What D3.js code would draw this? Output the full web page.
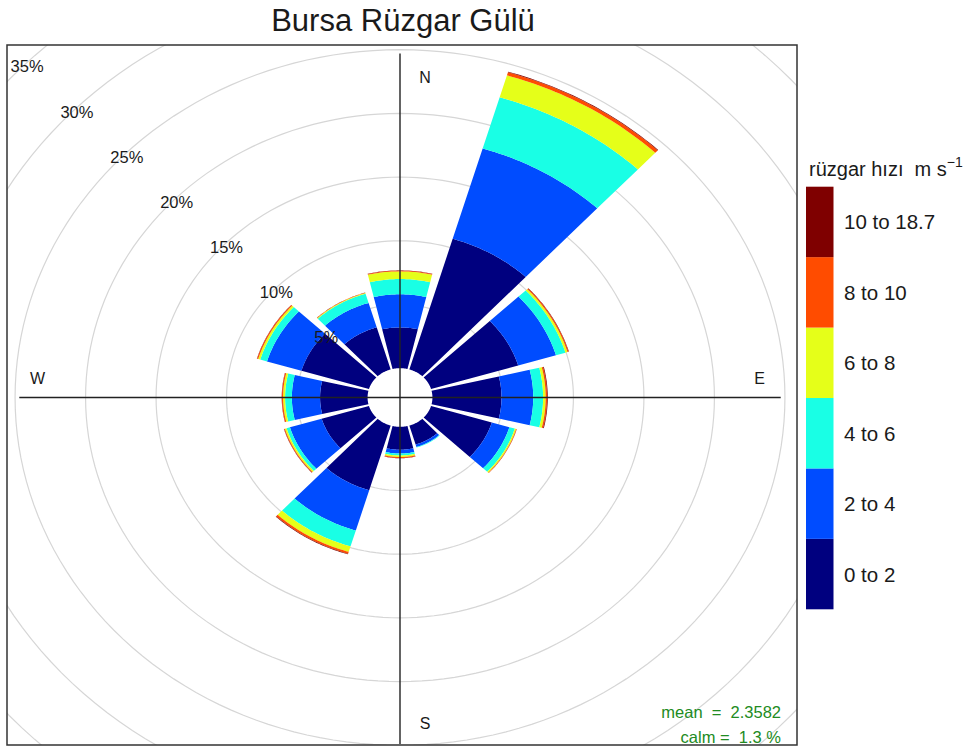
<!DOCTYPE html>
<html>
<head>
<meta charset="utf-8">
<script src="https://cdn.jsdelivr.net/npm/d3@7"></script>
<style>
  body { margin: 0; background: #fff; }
  text { font-family: "Liberation Sans", Arial, sans-serif; fill: #1a1a1a; }
</style>
</head>
<body>
<svg id="chart" width="972" height="752"></svg>
<script>
// Wind directions (degrees, clockwise from north) and speed bins.
const directions = [0, 30, 60, 90, 120, 150, 180, 210, 240, 270, 300, 330];
const speedBins = ["0 to 2", "2 to 4", "4 to 6", "6 to 8", "8 to 10", "10 to 18.7"];
const binColours = ["#00007F", "#004CFF", "#19FFE5", "#E5FF19", "#FF4C00", "#7F0000"];

// Frequency (%) of each speed bin per direction.
const freq0to2   = [3.2, 10.7, 6.45, 4.9, 4.5, 1.55, 1.8, 5.3, 3.5, 3.37, 5.0, 3.45];
const freq2to4   = [2.6, 7.4, 2.8, 2.25, 1.3, 0.2, 0.3, 3.3, 2.35, 2.0, 2.55, 2.0];
const freq4to6   = [1.2, 4.2, 0.7, 0.7, 0.4, 0.05, 0.15, 1.3, 0.25, 0.48, 0.5, 0.75];
const freq6to8   = [0.6, 1.8, 0.15, 0.18, 0.1, 0.0, 0.12, 0.45, 0.12, 0.14, 0.15, 0.06];
const freq8to10  = [0.06, 0.25, 0.08, 0.1, 0.04, 0.0, 0.08, 0.15, 0.06, 0.08, 0.08, 0.03];
const freq10plus = [0.02, 0.05, 0.03, 0.05, 0.01, 0.0, 0.02, 0.05, 0.02, 0.02, 0.02, 0.01];

const gridPercents = [5, 10, 15, 20, 25, 30, 35];
const compassLabels = ["N", "E", "S", "W"];
const meanText = "mean  =  2.3582";
const calmText = "calm =  1.3 %";

const series = [freq0to2, freq2to4, freq4to6, freq6to8, freq8to10, freq10plus];

const svg = d3.select("#chart");

// Panel geometry.
const panel = {left: 7, top: 45, right: 797, bottom: 745};
const cx = 400, cy = 397.5;
const offset = 2.3;        // empty centre (in % units)
const halfWidth = 13.3;    // half angular width of a petal

// The plot is not aspect-equal: x and y have their own scale.
const x = d3.scaleLinear().domain([0, 10]).range([cx, cx + 141]);
const y = d3.scaleLinear().domain([0, 10]).range([cy, cy - 127.4]);

function polar(r, deg) {
    let a = deg * Math.PI / 180;
    return [x(r * Math.sin(a)), y(r * Math.cos(a))];
}

svg.append("defs").append("clipPath").attr("id", "panel-clip")
    .append("rect")
    .attr("x", panel.left).attr("y", panel.top)
    .attr("width", panel.right - panel.left)
    .attr("height", panel.bottom - panel.top);

const plot = svg.append("g").attr("clip-path", "url(#panel-clip)");

// Grid ellipses.
const ring = d3.line().curve(d3.curveLinearClosed);
plot.selectAll(".grid")
    .data(gridPercents)
    .join("path")
    .attr("class", "grid")
    .attr("d", function(p) {
        return ring(d3.range(0, 360, 2).map(function(t) { return polar(offset + p, t); }));
    })
    .attr("fill", "none")
    .attr("stroke", "#d6d6d6")
    .attr("stroke-width", 1.2);

// Petals: each speed bin stacked outward from the offset.
const line = d3.line();
function wedge(dir, r0, r1) {
    let angles = d3.range(0, 31).map(function(i) {
        return dir - halfWidth + i * (2 * halfWidth / 30);
    });
    let outer = angles.map(function(t) { return polar(r1, t); });
    let inner = angles.slice().reverse().map(function(t) { return polar(r0, t); });
    return line(outer.concat(inner)) + "Z";
}

let petals = [];
directions.forEach(function(dir, i) {
    let cum = offset;
    series.forEach(function(values, b) {
        let v = values[i];
        if (v > 0) {
            petals.push({dir: dir, r0: cum, r1: cum + v, bin: b});
        }
        cum += v;
    });
});

plot.selectAll(".petal")
    .data(petals)
    .join("path")
    .attr("class", "petal")
    .attr("d", function(d) { return wedge(d.dir, d.r0, d.r1); })
    .attr("fill", function(d) { return binColours[d.bin]; });

// Axis cross.
const axisR = 27;
plot.append("line")
    .attr("x1", x(-axisR)).attr("x2", x(axisR))
    .attr("y1", cy).attr("y2", cy)
    .attr("stroke", "#222").attr("stroke-width", 1.4);
plot.append("line")
    .attr("x1", cx).attr("x2", cx)
    .attr("y1", y(axisR)).attr("y2", y(-axisR - 0.2))
    .attr("stroke", "#222").attr("stroke-width", 1.4);

// Percentage labels along the north-west diagonal.
plot.selectAll(".pct")
    .data(gridPercents)
    .join("text")
    .attr("class", "pct")
    .attr("x", function(p) { return polar(offset + p, 315)[0] - 1; })
    .attr("y", function(p) { return polar(offset + p, 315)[1] + 5; })
    .attr("text-anchor", "middle")
    .attr("dominant-baseline", "central")
    .attr("font-size", 16.5)
    .text(function(p) { return p + "%"; });

// Compass labels.
const compassPos = [
    [cx + 25, y(25.1)],
    [x(25.5), cy - 19],
    [cx + 25, y(-25.6)],
    [x(-25.7), cy - 19]
];
plot.selectAll(".compass")
    .data(compassLabels)
    .join("text")
    .attr("class", "compass")
    .attr("x", function(d, i) { return compassPos[i][0]; })
    .attr("y", function(d, i) { return compassPos[i][1]; })
    .attr("text-anchor", "middle")
    .attr("dominant-baseline", "central")
    .attr("font-size", 16)
    .text(function(d) { return d; });

// Mean and calm notes.
plot.selectAll(".note")
    .data([meanText, calmText])
    .join("text")
    .attr("class", "note")
    .attr("x", 781)
    .attr("y", function(d, i) { return 718 + i * 25; })
    .attr("text-anchor", "end")
    .attr("font-size", 16.5)
    .style("fill", "forestgreen")
    .style("white-space", "pre")
    .text(function(d) { return d; });

// Panel frame.
svg.append("rect")
    .attr("x", panel.left).attr("y", panel.top)
    .attr("width", panel.right - panel.left)
    .attr("height", panel.bottom - panel.top)
    .attr("fill", "none")
    .attr("stroke", "#333")
    .attr("stroke-width", 1.5);

// Title.
svg.append("text")
    .attr("x", 403).attr("y", 31)
    .attr("text-anchor", "middle")
    .attr("font-size", 31)
    .text("Bursa Rüzgar Gülü");

// Colour key.
const keyTop = 186.7, keyBottom = 609.3;
const keyScale = d3.scaleBand()
    .domain(speedBins.slice().reverse())
    .range([keyTop, keyBottom]);

const key = svg.append("g");
key.selectAll("rect")
    .data(speedBins)
    .join("rect")
    .attr("x", 806)
    .attr("y", function(d) { return keyScale(d); })
    .attr("width", 27.5)
    .attr("height", keyScale.bandwidth())
    .attr("fill", function(d, i) { return binColours[i]; });

key.selectAll(".keylab")
    .data(speedBins)
    .join("text")
    .attr("class", "keylab")
    .attr("x", 844)
    .attr("y", function(d) { return keyScale(d) + keyScale.bandwidth() / 2; })
    .attr("dominant-baseline", "central")
    .attr("font-size", 20.5)
    .text(function(d) { return d; });

const keyTitle = key.append("text")
    .attr("x", 809).attr("y", 176)
    .attr("font-size", 20)
    .style("white-space", "pre");
keyTitle.append("tspan").text("rüzgar hızı  m s");
keyTitle.append("tspan").attr("dy", -9).attr("font-size", 14).text("−1");
</script>
</body>
</html>
